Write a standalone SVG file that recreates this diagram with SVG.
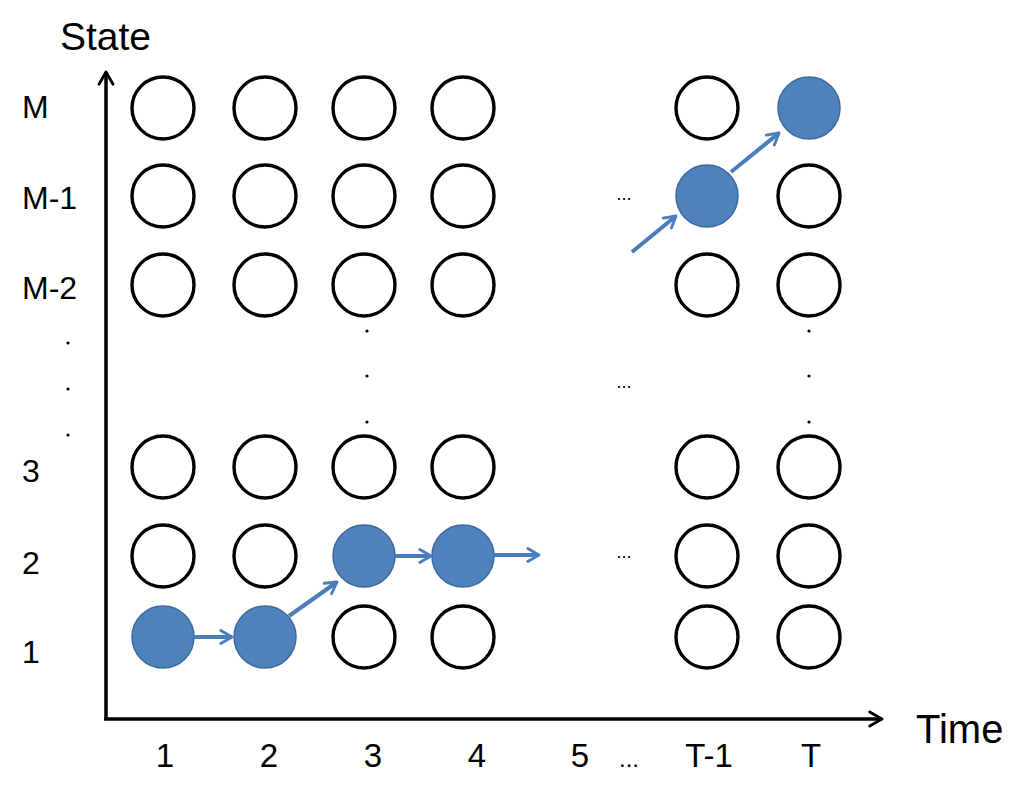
<svg xmlns="http://www.w3.org/2000/svg" width="1024" height="789" viewBox="0 0 1024 789">
<style>
.t{font-family:"Liberation Sans",Arial,sans-serif;fill:#000}
.lab{font-size:32px}
.num{font-size:33px}
.big{font-size:39px}
.e{fill:#fff;stroke:#000;stroke-width:3.4}
.f{fill:#4f81bd;stroke:#3d6a9e;stroke-width:1.5}
.ax{stroke:#000;stroke-width:3.5;fill:none}
.ar{stroke:#4a7ebb;stroke-width:4;fill:none}
.dot{fill:#000}
</style>
<defs>
<marker id="ba" viewBox="0 0 10 10" refX="8" refY="5" markerWidth="4" markerHeight="4" markerUnits="strokeWidth" orient="auto">
<polyline points="1,1 8,5 1,9" fill="none" stroke="#4a7ebb" stroke-width="1.8" stroke-linecap="round" stroke-linejoin="round"/>
</marker>
<marker id="ka" viewBox="0 0 10 10" refX="8" refY="5" markerWidth="5" markerHeight="5" markerUnits="strokeWidth" orient="auto">
<polyline points="1,1 8,5 1,9" fill="none" stroke="#000" stroke-width="1.6" stroke-linecap="round" stroke-linejoin="round"/>
</marker>
</defs>
<rect width="1024" height="789" fill="#fff"/>
<g id="axes">
<line class="ax" x1="106" y1="720" x2="106" y2="72" marker-end="url(#ka)"/>
<line class="ax" x1="104" y1="719" x2="882" y2="719" marker-end="url(#ka)"/>
</g>
<g id="labels">
<text class="t big" x="60" y="50">State</text>
<text class="t" font-size="40" x="916" y="743">Time</text>
<text class="t lab" x="22" y="118">M</text>
<text class="t lab" x="22" y="209">M-1</text>
<text class="t lab" x="22" y="299">M-2</text>
<text class="t lab" x="22" y="482">3</text>
<text class="t lab" x="22" y="574">2</text>
<text class="t lab" x="22" y="663">1</text>
<text class="t num" x="165" y="767" text-anchor="middle">1</text>
<text class="t num" x="269" y="767" text-anchor="middle">2</text>
<text class="t num" x="373" y="767" text-anchor="middle">3</text>
<text class="t num" x="477" y="767" text-anchor="middle">4</text>
<text class="t num" x="580" y="767" text-anchor="middle">5</text>
<text class="t" font-size="24" x="629" y="767" text-anchor="middle">...</text>
<text class="t num" x="709" y="767" text-anchor="middle">T-1</text>
<text class="t num" x="811" y="767" text-anchor="middle">T</text>
<text class="t" font-size="18" x="624" y="200" text-anchor="middle">...</text>
<text class="t" font-size="18" x="624" y="388" text-anchor="middle">...</text>
<text class="t" font-size="18" x="624" y="558" text-anchor="middle">...</text>
</g>
<g id="vdots">
<circle class="dot" cx="68" cy="343" r="1.6"/><circle class="dot" cx="68" cy="389" r="1.6"/><circle class="dot" cx="68" cy="435" r="1.6"/>
<circle class="dot" cx="367" cy="331" r="1.6"/><circle class="dot" cx="367" cy="376" r="1.6"/><circle class="dot" cx="367" cy="422" r="1.6"/>
<circle class="dot" cx="809" cy="331" r="1.6"/><circle class="dot" cx="809" cy="376" r="1.6"/><circle class="dot" cx="809" cy="422" r="1.6"/>
</g>
<g id="nodes-M">
<circle id="n1M" class="e" cx="163" cy="108" r="31"/>
<circle id="n2M" class="e" cx="265" cy="108" r="31"/>
<circle id="n3M" class="e" cx="364" cy="108" r="31"/>
<circle id="n4M" class="e" cx="463" cy="108" r="31"/>
<circle id="nT1M" class="e" cx="707" cy="108" r="31"/>
<circle id="nTM" class="f" cx="809" cy="108" r="31"/>
</g>
<g id="nodes-M1">
<circle id="n1M1" class="e" cx="163" cy="196" r="31"/>
<circle id="n2M1" class="e" cx="265" cy="196" r="31"/>
<circle id="n3M1" class="e" cx="364" cy="196" r="31"/>
<circle id="n4M1" class="e" cx="463" cy="196" r="31"/>
<circle id="nT1M1" class="f" cx="707" cy="196" r="31"/>
<circle id="nTM1" class="e" cx="809" cy="196" r="31"/>
</g>
<g id="nodes-M2">
<circle id="n1M2" class="e" cx="163" cy="285" r="31"/>
<circle id="n2M2" class="e" cx="265" cy="285" r="31"/>
<circle id="n3M2" class="e" cx="364" cy="285" r="31"/>
<circle id="n4M2" class="e" cx="463" cy="285" r="31"/>
<circle id="nT1M2" class="e" cx="707" cy="285" r="31"/>
<circle id="nTM2" class="e" cx="809" cy="285" r="31"/>
</g>
<g id="nodes-3">
<circle id="n13" class="e" cx="163" cy="467" r="31"/>
<circle id="n23" class="e" cx="265" cy="467" r="31"/>
<circle id="n33" class="e" cx="364" cy="467" r="31"/>
<circle id="n43" class="e" cx="463" cy="467" r="31"/>
<circle id="nT13" class="e" cx="707" cy="467" r="31"/>
<circle id="nT3" class="e" cx="809" cy="467" r="31"/>
</g>
<g id="nodes-2">
<circle id="n12" class="e" cx="163" cy="556" r="31"/>
<circle id="n22" class="e" cx="265" cy="556" r="31"/>
<circle id="n32" class="f" cx="364" cy="556" r="31"/>
<circle id="n42" class="f" cx="463" cy="556" r="31"/>
<circle id="nT12" class="e" cx="707" cy="556" r="31"/>
<circle id="nT2" class="e" cx="809" cy="556" r="31"/>
</g>
<g id="nodes-1">
<circle id="n11" class="f" cx="163" cy="637" r="31"/>
<circle id="n21" class="f" cx="265" cy="637" r="31"/>
<circle id="n31" class="e" cx="364" cy="637" r="31"/>
<circle id="n41" class="e" cx="463" cy="637" r="31"/>
<circle id="nT11" class="e" cx="707" cy="637" r="31"/>
<circle id="nT1" class="e" cx="809" cy="637" r="31"/>
</g>
<g id="connectors">
<line class="ar" x1="194" y1="637" x2="232" y2="637" marker-end="url(#ba)"/>
<line class="ar" x1="289" y1="616" x2="337" y2="582" marker-end="url(#ba)"/>
<line class="ar" x1="395" y1="556" x2="431" y2="556" marker-end="url(#ba)"/>
<line class="ar" x1="494" y1="555" x2="539" y2="555" marker-end="url(#ba)"/>
<line class="ar" x1="632" y1="252" x2="676" y2="216" marker-end="url(#ba)"/>
<line class="ar" x1="731" y1="172" x2="779" y2="133" marker-end="url(#ba)"/>
</g>
</svg>
